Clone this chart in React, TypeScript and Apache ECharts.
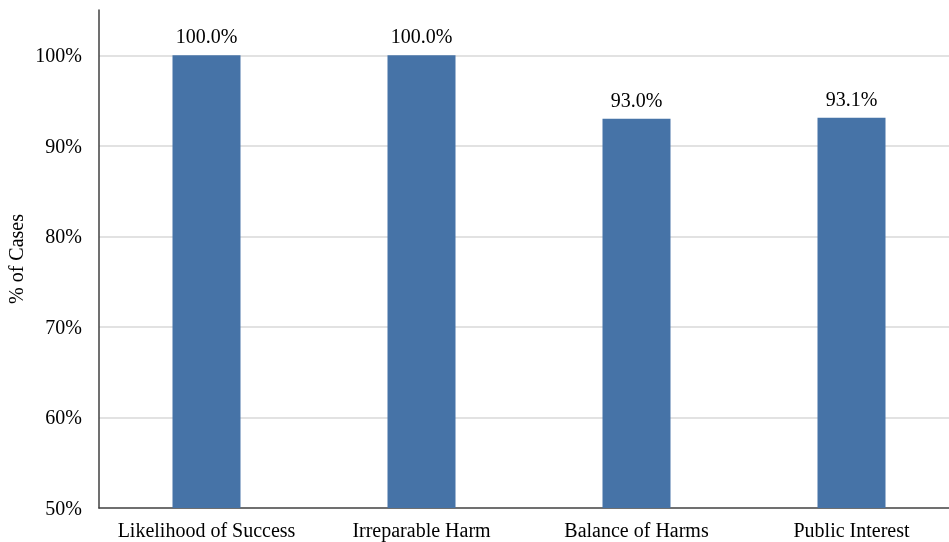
import React, { useEffect, useRef } from "react";
import * as echarts from "echarts";

const categories = ["Likelihood of Success", "Irreparable Harm", "Balance of Harms", "Public Interest"];
const values = [100.0, 100.0, 93.0, 93.1];
const yAxisName = "% of Cases";

export default function App() {
  const ref = useRef<HTMLDivElement>(null);
  useEffect(() => {
    if (!ref.current) return;
    const chart = echarts.init(ref.current, null, { renderer: "svg" });
    const font = "'Liberation Serif', 'Times New Roman', serif";
    chart.setOption({
      animation: false,
      textStyle: { fontFamily: font },
      grid: { left: 99, right: -10, top: 10, bottom: 34, containLabel: false, outerBoundsMode: "none" },
      xAxis: {
        type: "category",
        data: categories,
        axisLine: { lineStyle: { color: "#404040", width: 1.5 } },
        axisTick: { show: false },
        axisLabel: { color: "#000", fontSize: 20, fontFamily: font, margin: 12, interval: 0 },
      },
      yAxis: {
        type: "value",
        min: 50,
        max: 105,
        interval: 10,
        name: yAxisName,
        nameLocation: "middle",
        nameGap: 73,
        nameMoveOverlap: false,
        nameTextStyle: { color: "#000", fontSize: 20, fontFamily: font },
        axisLine: { show: true, lineStyle: { color: "#404040", width: 1.5 } },
        axisTick: { show: false },
        axisLabel: {
          color: "#000",
          fontSize: 20,
          fontFamily: font,
          margin: 17,
          showMaxLabel: false,
          formatter: (v: number) => (v % 10 === 0 ? `${v}%` : ""),
        },
        splitLine: { show: true, showMinLine: false, showMaxLine: false, lineStyle: { color: "#d9d9d9", width: 1.5 } },
      },
      series: [
        {
          type: "bar",
          data: values,
          barWidth: 68,
          itemStyle: { color: "#4673A7" },
          label: {
            show: true,
            position: "top",
            distance: 9,
            color: "#000",
            fontSize: 20,
            fontFamily: font,
            formatter: (p: any) => `${Number(p.value).toFixed(1)}%`,
          },
        },
      ],
    });
    return () => chart.dispose();
  }, []);
  return <div ref={ref} style={{ position: "fixed", left: 0, top: 0, width: 949, height: 542 }} />;
}
